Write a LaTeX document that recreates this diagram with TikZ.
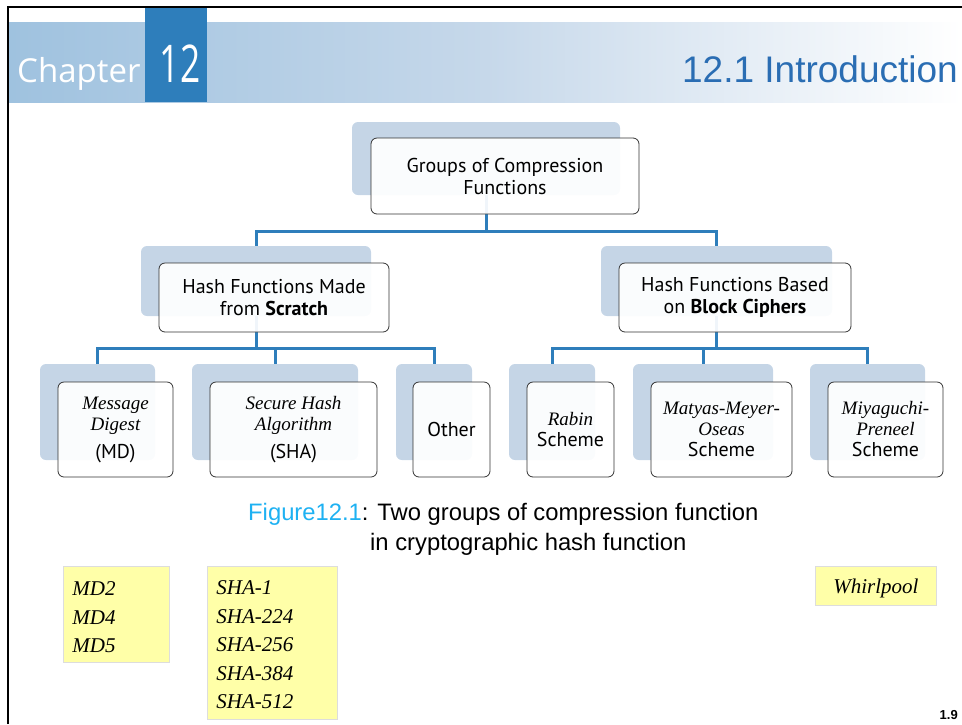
\documentclass[tikz,border=0pt]{standalone}
\usepackage{fontspec}
\usepackage{graphicx}
\setmainfont{Liberation Sans}
\newfontfamily\tah{PT Sans}
\newfontfamily\tms{Liberation Serif}
\newfontfamily\osans{Open Sans}
\definecolor{hdrblue}{HTML}{2E7EBB}
\definecolor{introblue}{HTML}{2A6DB3}
\definecolor{shadowc}{HTML}{C5D5E6}
\definecolor{figcyan}{HTML}{1EB1F2}
\definecolor{noteyel}{HTML}{FFFFA8}
\definecolor{notegray}{HTML}{DDDDDD}
\definecolor{hdrleft}{HTML}{9FC2DF}
\definecolor{hdrmid}{HTML}{C6D8EA}
\begin{document}
\begin{tikzpicture}[x=1pt,y=-1pt,
  shadowbox/.style={fill=shadowc, rounded corners=6pt, inner sep=0pt, draw=none},
  mainbox/.style={draw=black!80, fill=white, fill opacity=0.93, text opacity=1, rounded corners=6pt, line width=0.8pt, align=center, inner sep=0pt},
  conn/.style={draw=hdrblue, line width=3pt},
  note/.style={fill=noteyel, draw=notegray, line width=0.8pt, inner sep=0pt, align=left},
  boxfont/.style={font=\tah\fontsize{20}{22}\selectfont},
  smallfont/.style={font=\tah\fontsize{20}{21}\selectfont},
  notefont/.style={font=\tms\itshape\fontsize{21}{28.5}\selectfont}
]
\useasboundingbox (0,0) rectangle (962,724);
% header
\shade[left color=hdrleft, right color=white, middle color=hdrmid] (9,22) rectangle (962,102);
\fill[hdrblue] (145,8) rectangle (207,102);
\draw[line width=2.5pt] (8,724) -- (8,7) -- (962,7);
\node[anchor=base west, inner sep=0pt, text=white] (chap) at (17,82) {\osans\fontsize{33}{33}\selectfont Chapter};
\node[anchor=base, inner sep=0pt, text=white] (num) at (180,82) {\osans\fontsize{52}{52}\selectfont\scalebox{0.68}[1]{12}};
\node[anchor=base east, inner sep=0pt, text=introblue] (intro) at (958,82) {\fontsize{37}{37}\selectfont 12.1 Introduction};

% shadows
\node[shadowbox, minimum width=268pt, minimum height=73pt] (sTop) at (486,158.5) {};
\node[shadowbox, minimum width=230pt, minimum height=70pt] (sL) at (256,281) {};
\node[shadowbox, minimum width=231pt, minimum height=70pt] (sR) at (716.5,281) {};
\node[shadowbox, minimum width=115pt, minimum height=96pt] (sMD) at (97.5,412) {};
\node[shadowbox, minimum width=166pt, minimum height=96pt] (sSHA) at (275,412) {};
\node[shadowbox, minimum width=76pt, minimum height=96pt] (sOth) at (434,412) {};
\node[shadowbox, minimum width=86pt, minimum height=96pt] (sRab) at (552,412) {};
\node[shadowbox, minimum width=140pt, minimum height=96pt] (sMat) at (703,412) {};
\node[shadowbox, minimum width=115pt, minimum height=96pt] (sMiy) at (867.5,412) {};

% connectors
\draw[conn] (sTop.south) -- ++(0,36) -| (sL.north);
\draw[conn] (sTop.south) -- ++(0,36) -| (sR.north);
\draw[conn] (sL.south) -- ++(0,32) -| (sMD.north);
\draw[conn] (sL.south) -- ++(0,32) -| (sSHA.north);
\draw[conn] (sL.south) -- ++(0,32) -| (sOth.north);
\draw[conn] (sR.south) -- ++(0,32) -| (sRab.north);
\draw[conn] (sR.south) -- ++(0,32) -| (sMat.north);
\draw[conn] (sR.south) -- ++(0,32) -| (sMiy.north);

% boxes
\node[mainbox, boxfont, minimum width=268pt, minimum height=76pt] (bTop) at (505,176) {Groups of Compression\\Functions};
\node[mainbox, boxfont, minimum width=230pt, minimum height=69pt] (bL) at (274,297.5) {Hash Functions Made\\from \textbf{Scratch}};
\node[mainbox, boxfont, minimum width=232pt, minimum height=69pt] (bR) at (735,297.5) {Hash Functions Based\\on \textbf{Block Ciphers}};
\node[mainbox, smallfont, minimum width=115pt, minimum height=95pt] (bMD) at (115.5,429.5)
  {{\tms\itshape\fontsize{19}{20}\selectfont Message}\\{\tms\itshape\fontsize{19}{20}\selectfont Digest}\\[7pt](MD)};
\node[mainbox, smallfont, minimum width=167pt, minimum height=95pt] (bSHA) at (293.5,429.5)
  {{\tms\itshape\fontsize{19}{20}\selectfont Secure Hash}\\{\tms\itshape\fontsize{19}{20}\selectfont Algorithm}\\[7pt](SHA)};
\node[mainbox, smallfont, minimum width=77pt, minimum height=95pt] (bOth) at (451.5,429.5) {Other};
\node[mainbox, smallfont, minimum width=87pt, minimum height=95pt] (bRab) at (570.5,429.5)
  {{\tms\itshape\fontsize{19}{20}\selectfont Rabin}\\Scheme};
\node[mainbox, smallfont, minimum width=141pt, minimum height=95pt] (bMat) at (721.5,429.5)
  {{\tms\itshape\fontsize{19}{20}\selectfont Matyas-Meyer-}\\{\tms\itshape\fontsize{19}{20}\selectfont Oseas}\\Scheme};
\node[mainbox, smallfont, minimum width=115pt, minimum height=95pt] (bMiy) at (885.5,429.5)
  {{\tms\itshape\fontsize{19}{20}\selectfont Miyaguchi-}\\{\tms\itshape\fontsize{19}{20}\selectfont Preneel}\\Scheme};

% caption
\node[anchor=base west, inner sep=0pt] (cap1) at (248,520) {\fontsize{23.8}{24}\selectfont\textcolor{figcyan}{Figure12.1}: Two groups of compression function};
\node[anchor=base west, inner sep=0pt] (cap2) at (370,550) {\fontsize{23.8}{24}\selectfont in cryptographic hash function};

% notes
\node[note, notefont, minimum width=105pt, minimum height=96pt, anchor=north west, text width=88pt, inner xsep=9pt] (nMD) at (63,566) {\rule{0pt}{20pt}MD2\\MD4\\MD5};
\node[note, notefont, minimum width=129pt, minimum height=153pt, anchor=north west, text width=112pt, inner xsep=9pt] (nSHA) at (207,566) {\rule{0pt}{18pt}SHA-1\\SHA-224\\SHA-256\\SHA-384\\SHA-512};
\node[note, notefont, minimum width=121pt, minimum height=39pt, anchor=north west, align=center, text depth=0pt] (nWh) at (815,566) {Whirlpool};

\node[anchor=base east, inner sep=0pt] (pg) at (958,719) {\bfseries\fontsize{13}{13}\selectfont 1.9};
\end{tikzpicture}
\end{document}
